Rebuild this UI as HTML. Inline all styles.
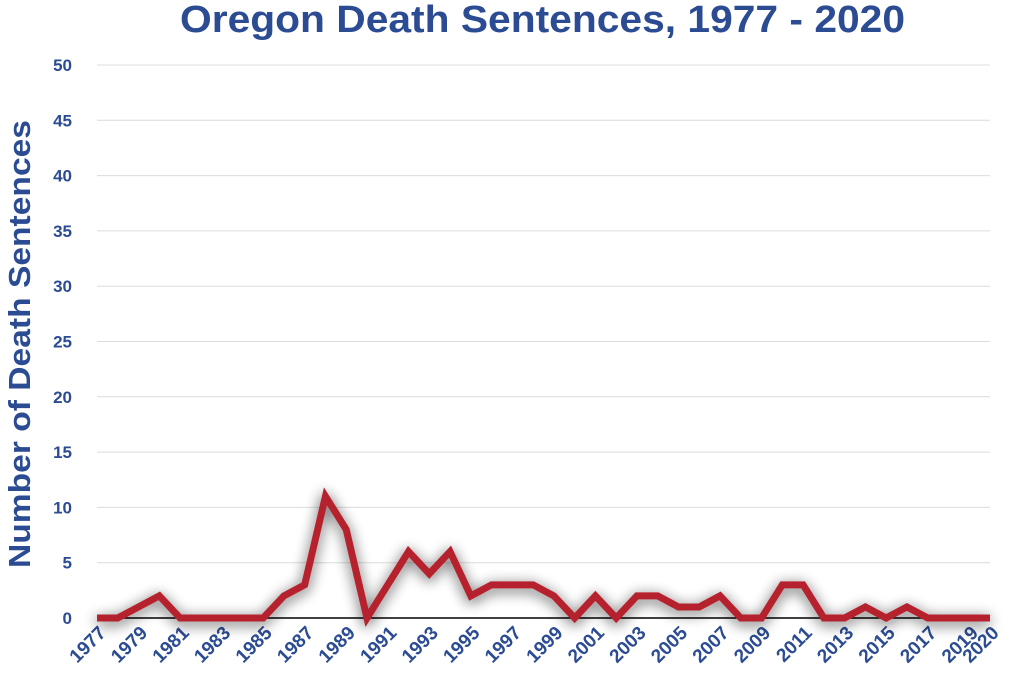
<!DOCTYPE html>
<html><head><meta charset="utf-8"><style>
body{margin:0;background:#fff;}
svg{display:block;font-family:"Liberation Sans",sans-serif;}
</style></head><body>
<svg id="chart" width="1024" height="678">
<defs><filter id="sh" x="-10%" y="-60%" width="120%" height="220%"><feGaussianBlur in="SourceAlpha" stdDeviation="7"/><feOffset dx="0" dy="3"/><feComponentTransfer><feFuncA type="linear" slope="0.7"/></feComponentTransfer><feMerge><feMergeNode/><feMergeNode in="SourceGraphic"/></feMerge></filter></defs>
<text x="180" y="32" textLength="725" lengthAdjust="spacingAndGlyphs" font-size="38" font-weight="bold" fill="#2b4b93">Oregon Death Sentences, 1977 - 2020</text>
<text transform="translate(30,568) rotate(-90)" textLength="448" lengthAdjust="spacingAndGlyphs" font-size="31" font-weight="bold" fill="#2b4b93">Number of Death Sentences</text>
<g id="grid"></g><g id="yt"></g><g id="xt"></g><g id="line"></g>
</svg>
<script>
const years=[];for(let y=1977;y<=2020;y++)years.push(y);
const values=[0,0,1,2,0,0,0,0,0,2,3,11,8,0,3,6,4,6,2,3,3,3,2,0,2,0,2,2,1,1,2,0,0,3,3,0,0,1,0,1,0,0,0,0];
const yTicks=[0,5,10,15,20,25,30,35,40,45,50];
const NS='http://www.w3.org/2000/svg';
const x0=97,x1=990,yb=618,yt=65;
const X=i=>x0+(x1-x0)*i/(years.length-1);
const Y=v=>yb-(yb-yt)*v/50;
function mk(t,a,p){const e=document.createElementNS(NS,t);for(const k in a)e.setAttribute(k,a[k]);p.appendChild(e);return e;}
const g=document.getElementById('grid'),gy=document.getElementById('yt'),gx=document.getElementById('xt'),gl=document.getElementById('line');
yTicks.forEach(v=>{
 const l=mk('line',{x1:x0,x2:x1,y1:Y(v),y2:Y(v),stroke:v===0?'#000':'#dcdcdc','stroke-width':v===0?1.5:1},g);
 
 
 const t=mk('text',{x:72,y:Y(v)+6,'text-anchor':'end','font-size':17,'font-weight':'bold',fill:'#2b4b93'},gy);
 t.textContent=v;
 
 
});
years.forEach((yr,i)=>{
 if((yr-1977)%2!==0&&yr!==2020)return;
 const t=mk('text',{transform:`translate(${X(i)+10},${yb+16}) rotate(-45)`,'text-anchor':'end','font-size':19,fill:'#2b4b93','font-weight':'bold'},gx);
 t.textContent=yr;
 
 
});
const p=mk('polyline',{points:values.map((v,i)=>X(i)+','+Y(v)).join(' '),fill:'none',stroke:'#b5232e','stroke-width':7,'stroke-linejoin':'miter',filter:'url(#sh)'},gl);


</script>
</body></html>
